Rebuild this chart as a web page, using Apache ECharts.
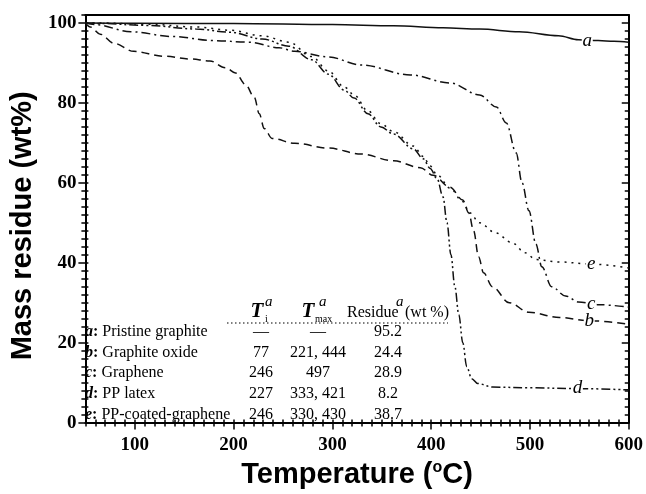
<!DOCTYPE html>
<html>
<head>
<meta charset="utf-8">
<script src="https://cdn.jsdelivr.net/npm/echarts/dist/echarts.min.js"></script>
<style>
html,body{margin:0;padding:0;background:#fff;}
#chart{width:646px;height:494px;}
</style>
</head>
<body>
<div id="chart"></div>
<script>
// ---------- data ----------
const xMajorTicks = [100, 200, 300, 400, 500, 600];
const yMajorTicks = [0, 20, 40, 60, 80, 100];

const aTemp = [50, 100, 200, 300, 362, 412, 449, 489, 529, 549, 569, 585, 600];
const aMass = [100, 99.95, 99.85, 99.6, 99.3, 98.8, 98.5, 97.8, 96.8, 95.8, 95.6, 95.4, 95.2];

const bTemp = [50, 55, 65, 79, 99, 129, 156, 176, 192, 202, 212, 221, 226, 231, 239, 262, 296, 329, 362, 389, 402, 419, 432, 438, 443, 448, 453, 462, 479, 499, 530, 560, 600];
const bMass = [100, 99, 97.2, 94.9, 92.9, 91.7, 91, 90.5, 88.8, 87.5, 84.6, 81.4, 77.3, 73.6, 71.1, 69.9, 68.7, 67.2, 65.5, 63.8, 61.9, 58.9, 55.7, 52.5, 48, 41.5, 37.5, 34, 30, 27.6, 26.3, 25.5, 24.6];

const cTemp = [50, 60, 96, 139, 179, 216, 246, 262, 296, 329, 379, 419, 449, 466, 476, 486, 492, 499, 506, 512, 522, 536, 549, 570, 600];
const cMass = [100, 99.6, 97.8, 96.6, 95.6, 95.2, 93.8, 92.9, 91.5, 89.5, 87, 85, 82, 79, 75, 67.5, 60, 53, 44.7, 39, 34, 31.7, 30.2, 29.5, 28.9];

const dTemp = [50, 62, 112, 162, 196, 229, 256, 279, 296, 312, 322, 336, 349, 362, 382, 392, 399, 406, 412, 416, 420, 424, 428, 432, 436, 441, 447, 462, 500, 550, 600];
const dMass = [100, 99.9, 99.4, 98.5, 97.7, 96, 94.2, 90.8, 87.2, 83.2, 81.2, 77.3, 74, 72.2, 68.5, 66, 63.6, 61, 56.5, 50, 42, 34, 27, 20, 14, 11, 9.8, 8.9, 8.7, 8.5, 8.2];

const eTemp = [50, 62, 112, 162, 196, 229, 256, 279, 296, 312, 322, 336, 349, 362, 382, 392, 399, 406, 419, 432, 439, 449, 465, 482, 495, 506, 530, 560, 600];
const eMass = [100, 100, 99.7, 99, 98.2, 96.8, 95.2, 91.6, 88, 84, 82, 78, 74.8, 72.8, 69.2, 66.6, 64.2, 62, 58.7, 55.3, 52.5, 50, 47.5, 45, 42.5, 40.8, 40.2, 39.7, 38.7];

const curveLetters = ['a', 'b', 'c', 'd', 'e'];
const curveLabelAt = [[558, 95.6], [560, 25.5], [562, 29.6], [548, 8.6], [562, 39.7]];

// table text
const tableLetters = ['a', 'b', 'c', 'd', 'e'];
const tableNames = ['Pristine graphite', 'Graphite oxide', 'Graphene', 'PP latex', 'PP-coated-graphene'];
const tableTi = ['\u2014', '77', '246', '227', '246'];
const tableTmax = ['\u2014', '221, 444', '497', '333, 421', '330, 430'];
const tableResidue = ['95.2', '24.4', '28.9', '8.2', '38.7'];

// ---------- chart ----------
const zip = (xs, ys) => xs.map((x, i) => [x, ys[i]]);
const serif = '"Liberation Serif", "Times New Roman", serif';
const sans = '"Liberation Sans", Arial, sans-serif';

function xAx(extra) {
  return Object.assign({
    type: 'value', min: 50, max: 600, interval: 10, position: 'bottom',
    splitLine: { show: false },
    axisLine: { show: false, onZero: false },
    axisTick: { show: false },
    axisLabel: { show: false }
  }, extra);
}
function yAx(extra) {
  return Object.assign({
    type: 'value', min: 0, max: 102, interval: 2, position: 'left',
    splitLine: { show: false },
    axisLine: { show: false, onZero: false },
    axisTick: { show: false },
    axisLabel: { show: false }
  }, extra);
}
const tickStyle = { color: '#000', width: 1.5 };

const xAxes = [
  xAx({
    axisLine: { show: true, onZero: false, lineStyle: { color: '#000', width: 2 } },
    axisTick: { show: true, customValues: xMajorTicks, length: 7, inside: false, lineStyle: tickStyle },
    axisLabel: { show: true, customValues: xMajorTicks, margin: 13, color: '#000', fontFamily: serif, fontWeight: 'bold', fontSize: 19 },
    name: '{t|Temperature (}{s|o}{t|C)}',
    nameLocation: 'middle', nameGap: 31,
    nameTextStyle: {
      rich: {
        t: { fontFamily: sans, fontWeight: 'bold', fontSize: 29, color: '#000' },
        s: { fontFamily: sans, fontWeight: 'bold', fontSize: 16, color: '#000', verticalAlign: 'top', padding: [0, 0, 14, 0] }
      }
    }
  }),
  xAx({ axisTick: { show: true, length: 4, inside: false, lineStyle: tickStyle } }),
  xAx({ axisTick: { show: true, length: 3, inside: true, lineStyle: tickStyle } }),
  xAx({ position: 'top', axisLine: { show: true, onZero: false, lineStyle: { color: '#000', width: 2 } } })
];

const yAxes = [
  yAx({
    axisLine: { show: true, onZero: false, lineStyle: { color: '#000', width: 2 } },
    axisTick: { show: true, customValues: yMajorTicks, length: 7, inside: false, lineStyle: tickStyle },
    axisLabel: { show: true, customValues: yMajorTicks, margin: 9, color: '#000', fontFamily: serif, fontWeight: 'bold', fontSize: 19 },
    name: 'Mass residue (wt%)',
    nameLocation: 'middle', nameGap: 42,
    nameTextStyle: { fontFamily: sans, fontWeight: 'bold', fontSize: 29, color: '#000', padding: [0, 14, 0, 0] }
  }),
  yAx({ axisTick: { show: true, length: 4, inside: false, lineStyle: tickStyle } }),
  yAx({ axisTick: { show: true, length: 3, inside: true, lineStyle: tickStyle } }),
  yAx({
    position: 'right',
    axisLine: { show: true, onZero: false, lineStyle: { color: '#000', width: 2 } },
    axisTick: { show: true, customValues: yMajorTicks, length: 7, inside: true, lineStyle: tickStyle }
  }),
  yAx({ position: 'right', axisTick: { show: true, length: 4, inside: true, lineStyle: tickStyle } })
];

const dashes = [null, [8, 5], [9, 4, 2, 4], [9, 3, 2, 3, 2, 3], [2, 5]];
const temps = [aTemp, bTemp, cTemp, dTemp, eTemp];
const masses = [aMass, bMass, cMass, dMass, eMass];

const series = curveLetters.map((L, i) => ({
  name: L,
  type: 'line',
  xAxisIndex: 0, yAxisIndex: 0,
  data: zip(temps[i], masses[i]),
  symbol: 'none',
  smooth: 0.35,
  smoothMonotone: 'x',
  lineStyle: { color: '#111', width: 1.5, type: dashes[i] || 'solid' },
  markPoint: {
    symbol: 'rect',
    symbolSize: [11, 15],
    itemStyle: { color: '#fff' },
    label: { show: true, position: 'inside', formatter: L, color: '#000', fontFamily: serif, fontStyle: 'italic', fontSize: 19 },
    data: [{ coord: curveLabelAt[i] }]
  }
}));

// table graphics (annotation text)
const graphics = [];
const rowY0 = 332, rowStep = 20.6;
const tFont = 16;
function txt(text, x, y, opt) {
  graphics.push({
    type: 'text', x: x, y: y, z: 100,
    style: Object.assign({
      text: text, fill: '#000', fontFamily: serif, fontSize: tFont,
      textAlign: 'center', textVerticalAlign: 'middle'
    }, opt || {})
  });
}
// header
txt('T', 257, 312, { fontWeight: 'bold', fontStyle: 'italic', fontSize: 21 });
txt('i', 265, 319, { fontSize: 10, textAlign: 'left' });
txt('a', 265, 302, { fontStyle: 'italic', fontSize: 15, textAlign: 'left' });
txt('T', 308, 312, { fontWeight: 'bold', fontStyle: 'italic', fontSize: 21 });
txt('max', 315, 319, { fontSize: 10, textAlign: 'left' });
txt('a', 319, 302, { fontStyle: 'italic', fontSize: 15, textAlign: 'left' });
txt('Residue', 347, 313, { textAlign: 'left' });
txt('a', 396, 302, { fontStyle: 'italic', fontSize: 15, textAlign: 'left' });
txt('(wt %)', 449, 313, { textAlign: 'right' });
graphics.push({
  type: 'line', z: 100,
  shape: { x1: 227, y1: 323, x2: 448, y2: 323 },
  style: { stroke: '#000', lineWidth: 1.2, lineDash: [1.5, 2.5] }
});
tableNames.forEach((nm, i) => {
  const y = rowY0 + i * rowStep;
  graphics.push({
    type: 'text', x: 85, y: y, z: 100,
    style: {
      text: '{k|' + tableLetters[i] + '}{c|:} ' + nm,
      fill: '#000', fontFamily: serif, fontSize: tFont,
      textAlign: 'left', textVerticalAlign: 'middle',
      rich: {
        k: { fontFamily: serif, fontSize: tFont, fontWeight: 'bold', fontStyle: 'italic', fill: '#000' },
        c: { fontFamily: serif, fontSize: tFont, fontWeight: 'bold', fill: '#000' }
      }
    }
  });
  txt(tableTi[i], 261, y);
  txt(tableTmax[i], 318, y);
  txt(tableResidue[i], 388, y);
});

const chart = echarts.init(document.getElementById('chart'), null, { renderer: 'canvas' });
chart.setOption({
  animation: false,
  backgroundColor: '#fff',
  grid: { left: 80, right: 16, top: 15, bottom: 61, containLabel: false },
  xAxis: xAxes,
  yAxis: yAxes,
  series: series,
  graphic: graphics
});
</script>
</body>
</html>
